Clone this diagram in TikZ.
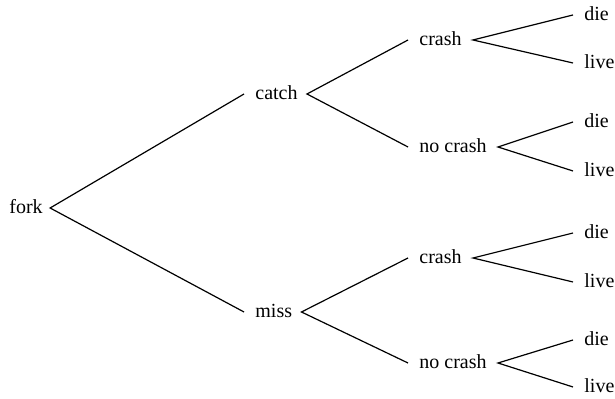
\documentclass[tikz,border=0pt]{standalone}
\usepackage{fontspec}
\setmainfont{Liberation Serif}
\begin{document}
\begin{tikzpicture}[x=0.5pt,y=-0.5pt,
  lbl/.style={anchor=west,inner xsep=5.5pt,inner ysep=0pt,text height=6pt,text depth=0pt,font=\fontsize{10}{12}\selectfont},
  br/.style={line width=0.6pt}]
\useasboundingbox (0,0) rectangle (615,399);
\node[lbl] (fork) at (-2,208) {fork};
\node[lbl] (catch) at (244,94) {catch};
\node[lbl] (miss) at (244,312) {miss};
\node[lbl] (c1) at (408,40) {crash};
\node[lbl] (n1) at (408,147) {no crash};
\node[lbl] (c2) at (408,258) {crash};
\node[lbl] (n2) at (408,363) {no crash};
\node[lbl] (d1) at (573,15) {die};
\node[lbl] (l1) at (573,63) {live};
\node[lbl] (d2) at (573,122) {die};
\node[lbl] (l2) at (573,171) {live};
\node[lbl] (d3) at (573,233) {die};
\node[lbl] (l3) at (573,282) {live};
\node[lbl] (d4) at (573,340) {die};
\node[lbl] (l4) at (573,387) {live};
\draw[br] (catch.west) -- ([xshift=-2pt]fork.east) -- (miss.west);
\draw[br] (c1.west) -- ([xshift=-1pt]catch.east) -- (n1.west);
\draw[br] (c2.west) -- ([xshift=-1pt]miss.east) -- (n2.west);
\draw[br] (d1.west) -- (c1.east) -- (l1.west);
\draw[br] (d2.west) -- (n1.east) -- (l2.west);
\draw[br] (d3.west) -- (c2.east) -- (l3.west);
\draw[br] (d4.west) -- (n2.east) -- (l4.west);
\end{tikzpicture}
\end{document}
